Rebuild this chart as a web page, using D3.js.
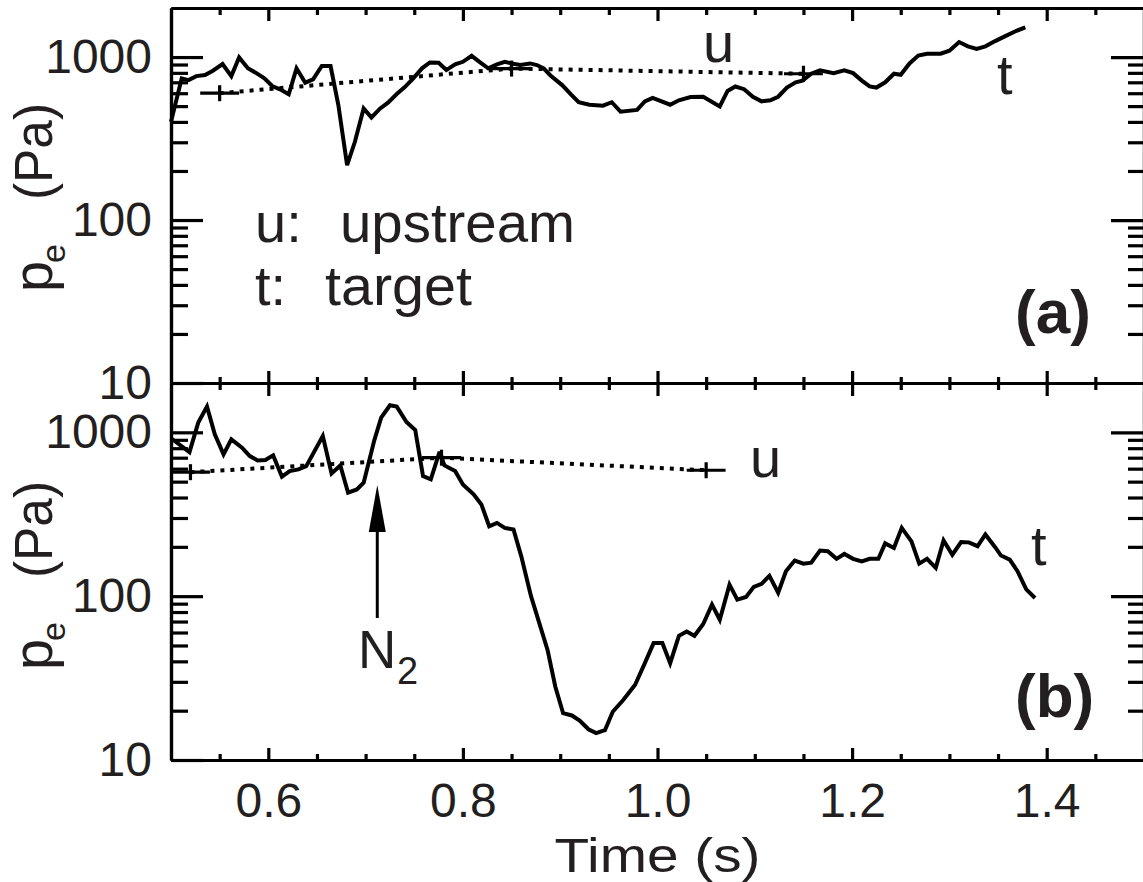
<!DOCTYPE html>
<html>
<head>
<meta charset="utf-8">
<script src="https://cdn.jsdelivr.net/npm/d3@7"></script>
<style>
  html, body { margin: 0; padding: 0; background: #fff; }
  svg { display: block; }
  text { font-family: "Liberation Sans", Arial, Helvetica, sans-serif; fill: #231f20; }
</style>
</head>
<body>
<svg id="chart" width="1143" height="882"></svg>
<script>
// ---------------- data ----------------
const timeMajorTicks = [0.6, 0.8, 1.0, 1.2, 1.4];
const timeMinorTicks = [0.55, 0.65, 0.7, 0.75, 0.85, 0.9, 0.95, 1.05, 1.1, 1.15, 1.25, 1.3, 1.35, 1.45];
const pMajorTicks = [10, 100, 1000];
const pMinorTicks = [20, 30, 40, 50, 60, 70, 80, 90, 200, 300, 400, 500, 600, 700, 800, 900];

// panel (a): target pressure [time (s), p_e (Pa)]
const targetA = [[0.500,401],[0.511,740],[0.518,722],[0.526,764],[0.535,776],[0.543,824],[0.553,906],[0.562,764],[0.570,995],[0.579,853],[0.587,802],[0.596,740],[0.604,664],[0.612,634],[0.621,591],[0.629,853],[0.638,696],[0.646,729],[0.655,881],[0.664,881],[0.672,508],[0.681,217],[0.689,302],[0.698,484],[0.706,426],[0.715,484],[0.723,525],[0.732,593],[0.740,652],[0.749,740],[0.758,853],[0.766,927],[0.775,922],[0.783,832],[0.792,901],[0.800,935],[0.809,1018],[0.817,935],[0.826,853],[0.835,901],[0.843,935],[0.850,914],[0.859,893],[0.869,914],[0.876,893],[0.883,853],[0.890,771],[0.902,673],[0.911,590],[0.919,528],[0.930,510],[0.944,503],[0.953,528],[0.962,462],[0.979,474],[0.987,535],[0.995,562],[1.013,510],[1.022,543],[1.034,568],[1.047,571],[1.064,498],[1.072,620],[1.080,660],[1.089,635],[1.098,571],[1.107,535],[1.116,543],[1.124,571],[1.133,650],[1.142,700],[1.149,717],[1.158,790],[1.167,829],[1.181,797],[1.192,829],[1.201,797],[1.210,717],[1.218,660],[1.225,650],[1.234,700],[1.243,790],[1.250,778],[1.259,914],[1.268,1021],[1.277,1048],[1.291,1048],[1.300,1095],[1.310,1236],[1.319,1164],[1.328,1121],[1.337,1164],[1.347,1253],[1.358,1349],[1.369,1449],[1.378,1523]];
// panel (a): upstream pressure
const upstreamA = [[0.55,600],[0.85,850],[1.15,790]];

// panel (b): target pressure
const targetB = [[0.500,920],[0.519,757],[0.528,1146],[0.537,1435],[0.545,972],[0.554,733],[0.562,906],[0.573,806],[0.581,716],[0.589,674],[0.597,677],[0.605,723],[0.614,536],[0.622,580],[0.631,594],[0.639,622],[0.656,949],[0.665,561],[0.674,628],[0.682,428],[0.691,448],[0.698,492],[0.709,897],[0.716,1230],[0.725,1463],[0.732,1436],[0.742,1156],[0.751,1033],[0.759,541],[0.767,517],[0.776,759],[0.781,628],[0.792,580],[0.800,481],[0.811,418],[0.819,363],[0.827,267],[0.835,280],[0.843,261],[0.852,255],[0.860,175],[0.870,100],[0.887,47],[0.895,28],[0.903,19.3],[0.912,18.7],[0.920,17.4],[0.929,15.4],[0.937,14.6],[0.946,15.2],[0.954,19.7],[0.965,23.3],[0.977,28.8],[0.987,39.0],[0.996,51.7],[1.005,51.7],[1.013,39.0],[1.022,57.3],[1.030,60.9],[1.038,57.3],[1.047,67.6],[1.056,88.7],[1.064,71.8],[1.074,117.5],[1.082,95.2],[1.091,98.9],[1.099,114],[1.107,119],[1.115,133],[1.124,105],[1.132,142],[1.141,165],[1.150,158],[1.158,160],[1.167,190],[1.175,188],[1.184,169],[1.192,181],[1.201,169],[1.210,163],[1.218,169],[1.227,169],[1.234,210],[1.243,197],[1.251,261],[1.261,216],[1.269,158],[1.277,169],[1.286,149],[1.294,219],[1.303,179],[1.312,214],[1.320,213],[1.329,202],[1.337,238],[1.347,199],[1.353,177],[1.362,167],[1.370,142],[1.379,110],[1.388,97.5]];
// panel (b): upstream pressure
const upstreamB = [[0.52,571],[0.778,700],[1.05,587]];
const upstreamHalfWidth = 0.02;   // horizontal arm of the "+" markers (s)
const n2Time = 0.712;             // N2 puff time (s)

// ---------------- chart ----------------
const svg = d3.select("#chart");
const INK = "#000";
const x = d3.scaleLinear().domain([0.5, 1.5]).range([171, 1144]);
const panels = [
  { y: d3.scaleLog().domain([10, 2000]).range([383, 8]), target: targetA, up: upstreamA, tag: "(a)" },
  { y: d3.scaleLog().domain([10, 2000]).range([760, 383]), target: targetB, up: upstreamB, tag: "(b)" }
];

function styleAxis(g) {
  g.selectAll("path.domain").attr("stroke", INK).attr("stroke-width", 3.2);
  g.selectAll(".tick line").attr("stroke", INK).attr("stroke-width", 3.2);
  g.selectAll(".tick text").attr("fill", "#231f20")
    .style("font-family", '"Liberation Sans", Arial, sans-serif').style("font-size", "48px");
}

panels.forEach((P, i) => {
  const y = P.y;
  const [yBot, yTop] = y.range();
  const g = svg.append("g");

  // left axis major + labels
  g.append("g").attr("transform", `translate(${x(0.5)},0)`)
    .call(d3.axisLeft(y).tickValues(pMajorTicks).tickSizeInner(-32).tickSizeOuter(0).tickPadding(19).tickFormat(d3.format("d")))
    .call(styleAxis);
  g.append("g").attr("transform", `translate(${x(0.5)},0)`)
    .call(d3.axisLeft(y).tickValues(pMinorTicks).tickSizeInner(-17).tickSizeOuter(0).tickFormat(""))
    .call(styleAxis);
  // right axis
  g.append("g").attr("transform", `translate(${x(1.5)},0)`)
    .call(d3.axisRight(y).tickValues(pMajorTicks).tickSizeInner(-33).tickSizeOuter(0).tickFormat(""))
    .call(styleAxis);
  g.append("g").attr("transform", `translate(${x(1.5)},0)`)
    .call(d3.axisRight(y).tickValues(pMinorTicks).tickSizeInner(-16).tickSizeOuter(0).tickFormat(""))
    .call(styleAxis);
  // top axis (ticks inward)
  g.append("g").attr("transform", `translate(0,${yTop})`)
    .call(d3.axisTop(x).tickValues(timeMajorTicks).tickSizeInner(-13).tickSizeOuter(0).tickFormat(""))
    .call(styleAxis);
  g.append("g").attr("transform", `translate(0,${yTop})`)
    .call(d3.axisTop(x).tickValues(timeMinorTicks).tickSizeInner(-7).tickSizeOuter(0).tickFormat(""))
    .call(styleAxis);
  // bottom axis (ticks inward)
  g.append("g").attr("transform", `translate(0,${yBot})`)
    .call(d3.axisBottom(x).tickValues(timeMajorTicks).tickSizeInner(-12).tickSizeOuter(0).tickPadding(23)
      .tickFormat(i === 1 ? d3.format(".1f") : ""))
    .call(styleAxis);
  g.append("g").attr("transform", `translate(0,${yBot})`)
    .call(d3.axisBottom(x).tickValues(timeMinorTicks).tickSizeInner(-6).tickSizeOuter(0).tickFormat(""))
    .call(styleAxis);

  // upstream dotted line with "+" markers
  const line = d3.line().x(d => x(d[0])).y(d => y(d[1]));
  g.append("path").datum(P.up).attr("d", line)
    .attr("fill", "none").attr("stroke", INK).attr("stroke-width", 4)
    .attr("stroke-dasharray", "4,6");
  const mk = g.append("g").selectAll("g").data(P.up).join("g");
  mk.append("line").attr("x1", d => x(d[0] - upstreamHalfWidth)).attr("x2", d => x(d[0] + upstreamHalfWidth))
    .attr("y1", d => y(d[1])).attr("y2", d => y(d[1])).attr("stroke", INK).attr("stroke-width", 3.2);
  mk.append("line").attr("x1", d => x(d[0])).attr("x2", d => x(d[0]))
    .attr("y1", d => y(d[1]) - 8).attr("y2", d => y(d[1]) + 8).attr("stroke", INK).attr("stroke-width", 3.2);

  // target solid line
  g.append("path").datum(P.target).attr("d", line)
    .attr("fill", "none").attr("stroke", INK).attr("stroke-width", 4)
    .attr("stroke-linejoin", "miter").attr("stroke-miterlimit", 3);

  // y label p_e (Pa)
  const yl = g.append("g").attr("transform", `translate(52,${i === 0 ? 292 : 670}) rotate(-90)`);
  yl.append("text").attr("x", 0).attr("y", 0).style("font-size", "56px").text("p");
  yl.append("text").attr("x", 29).attr("y", 13).style("font-size", "34px").text("e");
  yl.append("text").attr("x", 92).attr("y", 0).style("font-size", "53px")
    .attr("textLength", 97).attr("lengthAdjust", "spacingAndGlyphs").text("(Pa)");

  // panel tag
  g.append("text").attr("x", 1015).attr("y", i === 0 ? 333 : 717)
    .style("font-size", "62px").style("font-weight", "bold").text(P.tag);
});

// series labels
svg.append("text").attr("x", 703).attr("y", 62).style("font-size", "56px").text("u");
svg.append("text").attr("x", 997).attr("y", 94).style("font-size", "56px").text("t");
svg.append("text").attr("x", 750).attr("y", 477).style("font-size", "56px").text("u");
svg.append("text").attr("x", 1031).attr("y", 565).style("font-size", "56px").text("t");

// legend text
svg.append("text").attr("x", 255).attr("y", 242).style("font-size", "56px").text("u:");
svg.append("text").attr("x", 340).attr("y", 242).style("font-size", "56px")
  .attr("textLength", 235).attr("lengthAdjust", "spacingAndGlyphs").text("upstream");
svg.append("text").attr("x", 255).attr("y", 305).style("font-size", "56px").text("t:");
svg.append("text").attr("x", 325).attr("y", 305).style("font-size", "56px")
  .attr("textLength", 147).attr("lengthAdjust", "spacingAndGlyphs").text("target");

// N2 arrow
const ax = x(n2Time);
svg.append("line").attr("x1", ax).attr("x2", ax).attr("y1", 618).attr("y2", 528)
  .attr("stroke", INK).attr("stroke-width", 3);
svg.append("path").attr("d", `M${ax},485 L${ax - 8.5},532 L${ax + 8.5},532 Z`).attr("fill", INK);
svg.append("text").attr("x", 358).attr("y", 668).style("font-size", "53px").text("N");
svg.append("text").attr("x", 397).attr("y", 684).style("font-size", "38px").text("2");

// x axis title
svg.append("text").attr("x", x(1.0)).attr("y", 872).attr("text-anchor", "middle")
  .style("font-size", "48px").attr("textLength", 206).attr("lengthAdjust", "spacingAndGlyphs").text("Time (s)");
</script>
</body>
</html>
